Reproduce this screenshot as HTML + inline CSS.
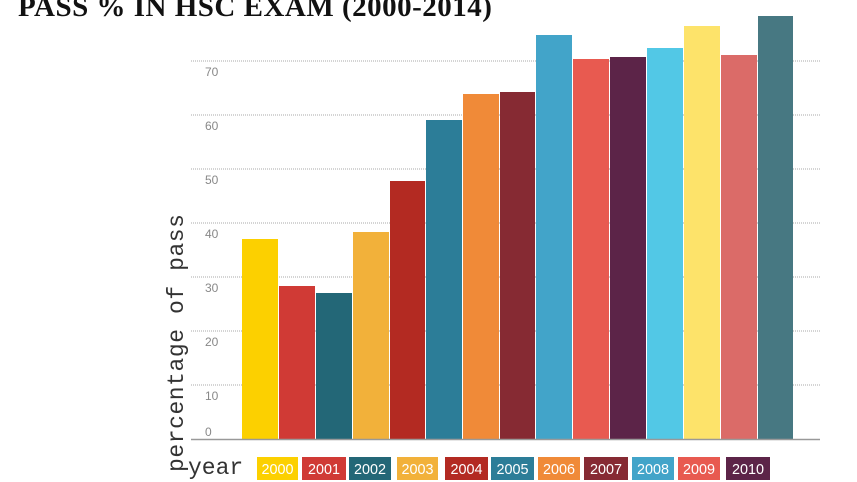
<!DOCTYPE html>
<html><head><style>
body{margin:0;width:857px;height:482px;background:#fff;overflow:hidden;position:relative;font-family:"Liberation Sans",sans-serif}
.t{position:absolute;left:18px;top:-9px;font-family:"Liberation Serif",serif;font-weight:bold;font-size:29px;color:#111;white-space:nowrap;letter-spacing:0.5px}
svg{position:absolute;left:0;top:0}
</style></head><body>
<svg width="857" height="482">
<g stroke="#aaa" stroke-dasharray="1,1">
<line x1="191" x2="820" y1="61" y2="61"/><line x1="191" x2="820" y1="115" y2="115"/><line x1="191" x2="820" y1="169" y2="169"/><line x1="191" x2="820" y1="223" y2="223"/><line x1="191" x2="820" y1="277" y2="277"/><line x1="191" x2="820" y1="331" y2="331"/><line x1="191" x2="820" y1="385" y2="385"/>
</g>
<g font-family="Liberation Sans, sans-serif" font-size="12" fill="#888">
<text x="205" y="76">70</text><text x="205" y="130">60</text><text x="205" y="184">50</text><text x="205" y="238">40</text><text x="205" y="292">30</text><text x="205" y="346">20</text><text x="205" y="400">10</text><text x="205" y="436">0</text>
</g>
<rect x="242" y="239" width="36" height="200" fill="#fcd000"/>
<rect x="279" y="286" width="36" height="153" fill="#d03a35"/>
<rect x="316" y="293" width="36" height="146" fill="#236777"/>
<rect x="353" y="232" width="36" height="207" fill="#f2b13a"/>
<rect x="390" y="181" width="35" height="258" fill="#b32a22"/>
<rect x="426" y="120" width="36" height="319" fill="#2c7d98"/>
<rect x="463" y="94" width="36" height="345" fill="#f08a38"/>
<rect x="500" y="92" width="35" height="347" fill="#862a33"/>
<rect x="536" y="35" width="36" height="404" fill="#42a4c9"/>
<rect x="573" y="59" width="36" height="380" fill="#e85a50"/>
<rect x="610" y="57" width="36" height="382" fill="#5c2448"/>
<rect x="647" y="48" width="36" height="391" fill="#52c8e6"/>
<rect x="684" y="26" width="36" height="413" fill="#fde36a"/>
<rect x="721" y="55" width="36" height="384" fill="#db6b68"/>
<rect x="758" y="16" width="35" height="423" fill="#477882"/>
<line x1="191" x2="820" y1="439.5" y2="439.5" stroke="#999" stroke-width="1.5"/>
<text transform="translate(183,472) rotate(-90)" font-family="Liberation Mono, monospace" font-size="23" fill="#333" textLength="258" lengthAdjust="spacing">percentage of pass</text>
<text x="188" y="474" font-family="Liberation Mono, monospace" font-size="23" fill="#333">year</text>
<g font-family="Liberation Sans, sans-serif" font-size="15" fill="#fff" text-anchor="middle">
<rect x="257" y="457" width="41" height="23" fill="#fcd000"/><text x="277.5" y="474" textLength="32" lengthAdjust="spacingAndGlyphs">2000</text>
<rect x="302" y="457" width="44" height="23" fill="#d03a35"/><text x="324" y="474" textLength="32" lengthAdjust="spacingAndGlyphs">2001</text>
<rect x="349" y="457" width="42" height="23" fill="#236777"/><text x="370" y="474" textLength="32" lengthAdjust="spacingAndGlyphs">2002</text>
<rect x="397" y="457" width="41" height="23" fill="#f2b13a"/><text x="417.5" y="474" textLength="32" lengthAdjust="spacingAndGlyphs">2003</text>
<rect x="445" y="457" width="43" height="23" fill="#b32a22"/><text x="466.5" y="474" textLength="32" lengthAdjust="spacingAndGlyphs">2004</text>
<rect x="491" y="457" width="43" height="23" fill="#2c7d98"/><text x="512.5" y="474" textLength="32" lengthAdjust="spacingAndGlyphs">2005</text>
<rect x="538" y="457" width="42" height="23" fill="#f08a38"/><text x="559" y="474" textLength="32" lengthAdjust="spacingAndGlyphs">2006</text>
<rect x="584" y="457" width="44" height="23" fill="#862a33"/><text x="606" y="474" textLength="32" lengthAdjust="spacingAndGlyphs">2007</text>
<rect x="632" y="457" width="42" height="23" fill="#42a4c9"/><text x="653" y="474" textLength="32" lengthAdjust="spacingAndGlyphs">2008</text>
<rect x="678" y="457" width="42" height="23" fill="#e85a50"/><text x="699" y="474" textLength="32" lengthAdjust="spacingAndGlyphs">2009</text>
<rect x="726" y="457" width="44" height="23" fill="#5c2448"/><text x="748" y="474" textLength="32" lengthAdjust="spacingAndGlyphs">2010</text>
</g>
</svg>
<div class="t">PASS % IN HSC EXAM (2000-2014)</div>
</body></html>
